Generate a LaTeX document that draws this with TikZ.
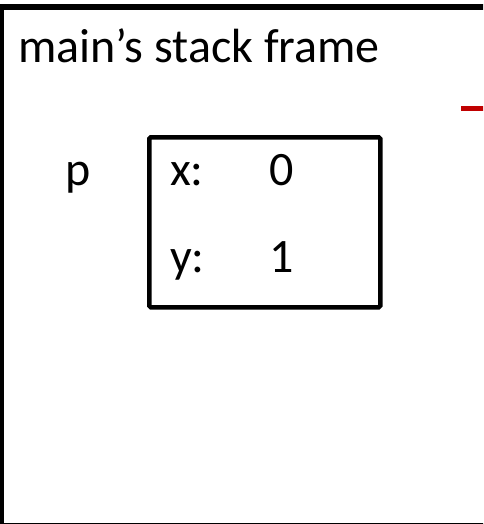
\documentclass[tikz,border=0pt]{standalone}
\usepackage{fontspec}
\setmainfont{Carlito}
\definecolor{darkred}{HTML}{C00000}
\begin{document}
\begin{tikzpicture}[x=1pt,y=-1pt,
  txt/.style={anchor=base west,inner sep=0pt,font=\fontsize{48}{56}\selectfont},
  frameline/.style={draw=black,line width=6pt},
  boxline/.style={draw=black,line width=4.5pt,rounded corners=1.5pt}]
\useasboundingbox (0,0) rectangle (483,524);
\begin{scope}
\clip (0,0) rectangle (483,524);
\draw[frameline] (0.5,7) rectangle (495,526);
\coordinate (r1) at (461,109);
\coordinate (r2) at (490,109);
\draw[darkred,line width=5pt] (r1) -- (r2);
\end{scope}
\node[txt] (title) at (18,63) {main’s stack frame};
\node[boxline,minimum width=231pt,minimum height=170pt,anchor=north west] (box) at (147,135) {};
\node[txt] (p) at (65,185) {p};
\node[txt] (xl) at (170,185) {x:};
\node[txt] (xv) at (269,185) {0};
\node[txt] (yl) at (170,272) {y:};
\node[txt] (yv) at (269,272) {1};
\end{tikzpicture}
\end{document}
